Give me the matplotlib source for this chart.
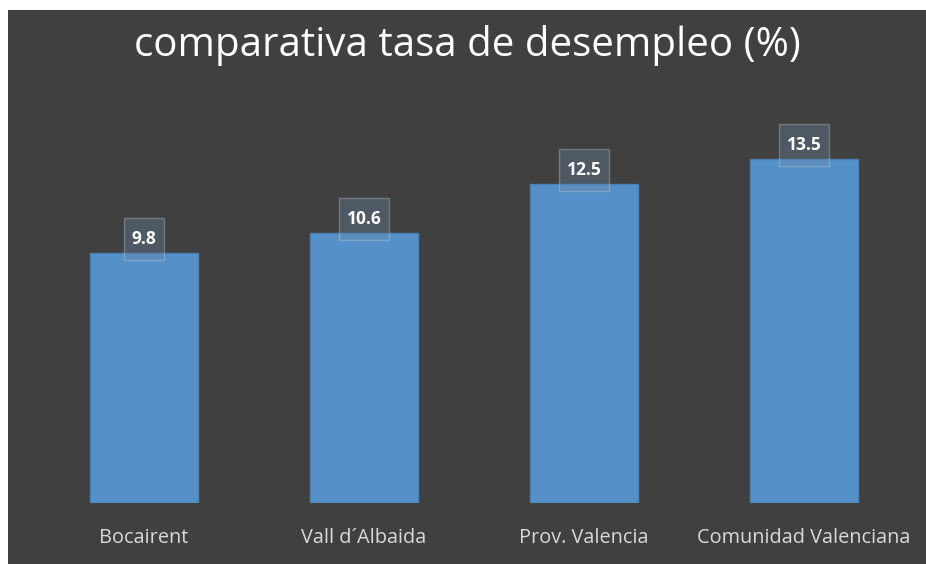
import matplotlib.pyplot as plt
from matplotlib.patches import Rectangle
from matplotlib.path import Path

categories = ['Bocairent', 'Vall d´Albaida', 'Prov. Valencia', 'Comunidad Valenciana']
tasa = [9.8, 10.6, 12.5, 13.5]

BG = '#404040'
BAR = '#5591c8'

plt.rcParams['font.family'] = ['Open Sans', 'DejaVu Sans']


def label_box(x0, y0, width, height, mutation_size):
    # caja casi cuadrada alrededor del valor
    px = 0.45 * mutation_size
    py = (42 - height) / 2.0
    x0, x1 = x0 - px, x0 + width + px
    y0, y1 = y0 - py, y0 + height + py
    return Path([(x0, y0), (x1, y0), (x1, y1), (x0, y1), (x0, y0)], closed=True)


fig = plt.figure(figsize=(9.26, 5.64), dpi=100)
fig.patch.set_facecolor('white')
fig.patches.append(Rectangle((8 / 926, 0), 1, 1 - 10 / 564, transform=fig.transFigure,
                             facecolor=BG, edgecolor='none', zorder=-10))

ax = fig.add_axes([34 / 926, 1 - 503 / 564, 880 / 926, 408 / 564])
ax.set_facecolor('none')

x = range(len(categories))
bars = ax.bar(x, tasa, width=0.49, color=BAR, edgecolor='#4a80b8', linewidth=1)

for xi, v in zip(x, tasa):
    ax.annotate(f'{v}', (xi, v), xytext=(0, 14), textcoords='offset pixels',
                ha='center', va='center', color='white', fontsize=12.5, fontweight='bold',
                bbox=dict(boxstyle=label_box, facecolor='#6a88a8', alpha=0.35,
                          edgecolor='#c8ced6', linewidth=1))

ax.set_xlim(-0.5, 3.5)
ax.set_ylim(0, 16)
ax.set_xticks(list(x))
ax.set_xticklabels(categories, color='#d9d9d9', fontsize=14.3)
ax.tick_params(axis='x', length=0, pad=18)
ax.set_yticks([])
for s in ax.spines.values():
    s.set_visible(False)

fig.text(467 / 926, 1 - 46 / 564, 'comparativa tasa de desempleo (%)', color='white',
         fontsize=29, ha='center', va='center')

fig.savefig('out.png', dpi=100, facecolor=fig.get_facecolor())
